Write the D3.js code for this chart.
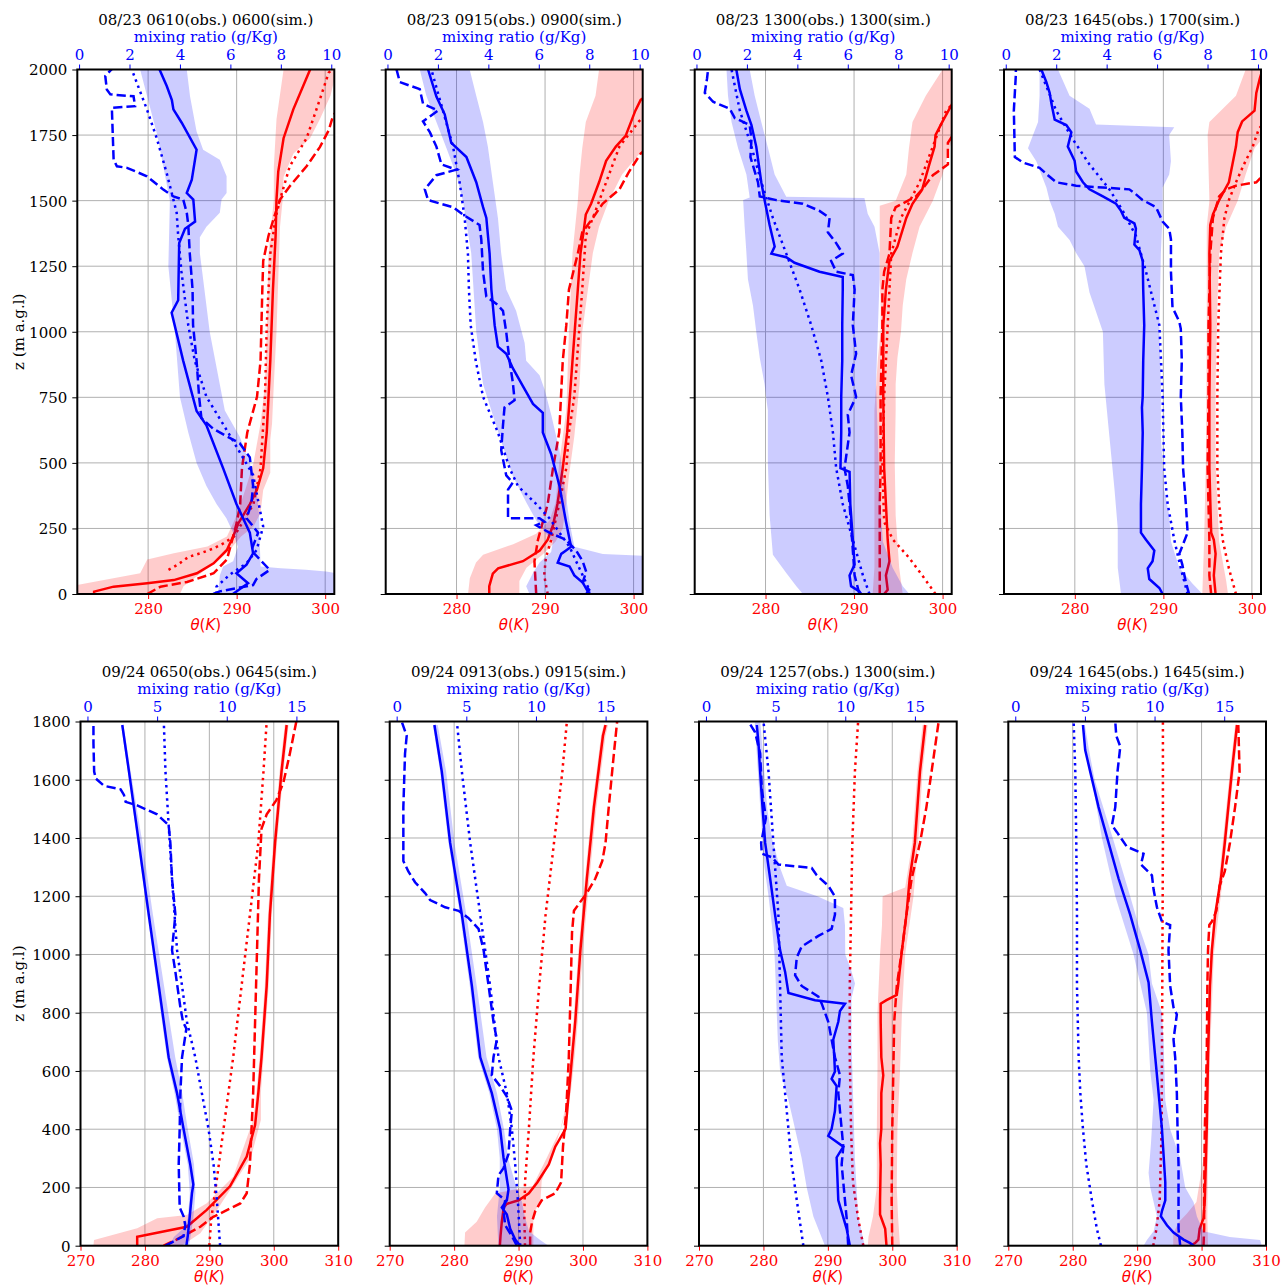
<!DOCTYPE html>
<html><head><meta charset="utf-8">
<script src="https://cdn.jsdelivr.net/npm/d3@7"></script>
<style>body{margin:0;background:#fff}svg{display:block}</style>
</head><body><svg id="c" width="1281" height="1286"></svg>
<script>
// ---------- titles ----------
const panelTitles = [
  "08/23 0610(obs.) 0600(sim.)", "08/23 0915(obs.) 0900(sim.)", "08/23 1300(obs.) 1300(sim.)", "08/23 1645(obs.) 1700(sim.)",
  "09/24 0650(obs.) 0645(sim.)", "09/24 0913(obs.) 0915(sim.)", "09/24 1257(obs.) 1300(sim.)", "09/24 1645(obs.) 1645(sim.)"
];
// ---------- tick values ----------
const zTicksTop = [0,250,500,750,1000,1250,1500,1750,2000];
const zTicksBottom = [0,200,400,600,800,1000,1200,1400,1600,1800];
const thetaTicksTop = [280,290,300];
const thetaTicksBottom = [270,280,290,300,310];
const mixTicksTop = [0,2,4,6,8,10];
const mixTicksBottom = [0,5,10,15];

// ---------- data: [z (m), value]; blue = mixing ratio (g/Kg), red = theta (K) ----------
// Panel 1
const p1BlueSolid = [[0,6.1],[41,6.7],[79,6.24],[112,6.64],[155,6.9],[234,6.77],[343,6.24],[480,5.71],[643,5.05],[698,4.66],[889,4.13],[1073,3.67],[1120,3.93],[1338,3.97],[1393,4.2],[1420,4.6],[1504,4.53],[1529,4.27],[1580,4.47],[1694,4.66],[1797,4.07],[1848,3.74],[1883,3.68],[1936,3.48],[2000,3.19]];
const p1BlueDash = [[0,5.32],[10,5.58],[34,6.9],[57,7.03],[92,7.56],[166,6.83],[234,7.1],[289,6.64],[343,6.83],[412,6.9],[521,6.77],[575,6.37],[602,5.84],[630,5.32],[671,4.85],[752,4.76],[889,4.66],[1025,4.52],[1161,4.5],[1298,4.39],[1407,4.33],[1454,4.27],[1504,4.13],[1516,3.74],[1542,3.34],[1593,2.69],[1625,1.9],[1631,1.5],[1656,1.37],[1854,1.3],[1860,2.22],[1898,2.16],[1905,1.24],[1924,1.1],[1975,1.04],[1996,1.24],[2000,1.3]];
const p1BlueDot = [[0,5.45],[28,5.45],[74,5.98],[117,6.64],[168,7.04],[257,7.3],[321,7.17],[454,6.9],[616,5.91],[752,5.05],[889,4.59],[1025,4.33],[1229,4.06],[1366,3.93],[1454,3.87],[1504,3.74],[1603,3.48],[1738,3.08],[1848,2.69],[2000,2.09]];
const p1BlueLo = [[0,5.51],[71,5.58],[105,5.71],[125,6.11],[180,6.3],[234,6.11],[289,5.84],[343,5.45],[412,5.05],[500,4.66],[616,4.33],[750,4.0],[1000,3.8],[1250,3.54],[1500,3.6],[1750,3.1],[2000,2.42]];
const p1BlueHi = [[0,10.15],[80,10.15],[86,9.8],[92,9.0],[98,8.0],[105,7.2],[180,7.17],[300,7.14],[400,7.03],[500,6.77],[600,6.37],[700,5.78],[800,5.58],[1000,5.18],[1200,4.92],[1300,4.79],[1360,4.79],[1400,5.05],[1454,5.58],[1504,5.65],[1529,5.85],[1593,5.85],[1656,5.58],[1694,4.92],[1764,4.66],[1898,4.4],[2000,4.27]];
const p1RedSolid = [[0,273.9],[9,273.9],[28,276.1],[41,279.9],[53,282.9],[79,285.5],[117,287.4],[168,288.9],[219,289.6],[270,290.2],[343,291.5],[398,292.3],[480,293.0],[616,293.4],[889,293.8],[1161,294.1],[1366,294.4],[1504,294.5],[1611,294.7],[1738,295.3],[1848,296.4],[2000,298.3]];
const p1RedDash = [[0,279.9],[28,281.4],[46,284.4],[79,287.4],[132,288.9],[219,289.6],[270,290.0],[343,290.4],[480,290.6],[616,291.2],[752,292.3],[889,292.7],[1161,292.9],[1270,293.0],[1366,293.6],[1434,294.2],[1504,294.9],[1555,296.0],[1631,297.9],[1704,299.4],[1768,300.4],[1825,300.9],[1850,301.6]];
const p1RedDot = [[92,282.3],[111,283.3],[142,284.6],[155,285.9],[174,287.4],[193,288.5],[219,289.7],[343,291.9],[480,292.7],[752,293.2],[1025,293.4],[1298,293.8],[1434,294.4],[1504,294.9],[1631,296.0],[1738,297.9],[1886,299.4],[1988,300.4],[2000,300.8]];
const p1RedLo = [[0,271],[28,271],[79,279.1],[132,279.9],[155,282.9],[181,286.7],[219,288.9],[270,289.6],[300,290.0],[400,291.0],[500,291.9],[650,292.7],[800,293.2],[1000,293.4],[1300,293.6],[1504,294.2],[1631,294.2],[1810,294.5],[2000,295.3]];
const p1RedHi = [[0,283.6],[30,284],[80,286],[130,288],[168,289.2],[219,290.5],[257,291.9],[309,292.7],[397,293.0],[462,293.8],[588,293.8],[650,294.0],[800,294.2],[1000,294.5],[1200,294.7],[1400,294.9],[1504,295.2],[1590,295.3],[1679,296.4],[1738,298.3],[1810,299.4],[1900,300.6],[2000,301.3]];
// Panel 2
const p2BlueSolid = [[0,8.0],[10,7.94],[44,7.74],[71,7.41],[105,7.22],[119,6.75],[153,6.89],[166,7.08],[180,7.28],[275,7.08],[412,6.82],[534,6.49],[616,6.16],[691,6.16],[725,5.77],[793,5.37],[861,4.97],[916,4.71],[943,4.38],[1025,4.25],[1161,4.12],[1298,4.05],[1434,3.92],[1475,3.79],[1570,3.52],[1666,3.13],[1720,2.53],[1829,2.27],[1897,1.94],[2000,1.61]];
const p2BlueDash = [[0,7.88],[16,8.0],[44,7.74],[85,7.88],[125,7.74],[166,7.48],[207,7.08],[234,6.42],[262,5.9],[275,6.23],[289,6.03],[289,4.78],[398,4.78],[425,4.97],[452,4.71],[548,4.51],[643,4.58],[711,4.64],[739,5.04],[807,4.97],[889,4.84],[998,4.71],[1080,4.58],[1107,4.31],[1134,3.92],[1229,3.79],[1352,3.72],[1407,3.65],[1447,2.99],[1475,2.6],[1502,1.61],[1543,1.48],[1597,1.94],[1618,2.73],[1638,2.14],[1706,1.94],[1761,1.68],[1802,1.41],[1843,2.0],[1870,1.41],[1925,1.28],[1952,0.49],[2000,0.36]];
const p2BlueDot = [[0,8.0],[16,8.0],[71,7.74],[125,7.48],[180,7.22],[234,6.82],[289,6.42],[343,5.9],[412,5.17],[480,4.84],[616,4.38],[752,3.79],[889,3.5],[1025,3.3],[1161,3.23],[1298,3.19],[1434,3.06],[1570,2.86],[1706,2.6],[1843,2.2],[2000,1.74]];
const p2BlueLo = [[0,5.63],[30,5.5],[80,5.77],[120,6.03],[160,6.49],[200,6.56],[230,6.29],[280,5.9],[350,5.5],[450,4.97],[600,4.45],[800,3.79],[1000,3.52],[1300,3.32],[1500,2.99],[1600,2.73],[1700,2.34],[1800,1.94],[1900,1.54],[2000,1.28]];
const p2BlueHi = [[0,10.2],[146,10.2],[153,8.54],[180,7.41],[275,7.22],[412,7.02],[548,6.82],[684,6.49],[780,6.23],[834,6.03],[889,5.5],[957,5.44],[1080,5.1],[1161,4.71],[1298,4.51],[1434,4.38],[1570,4.18],[1706,3.98],[1800,3.79],[1900,3.52],[2000,3.26]];
const p2RedSolid = [[0,283.7],[30,283.7],[78,284.1],[98,284.7],[125,287.5],[166,289.4],[207,290.3],[262,290.9],[343,291.4],[480,292.0],[616,292.5],[752,292.8],[889,293.1],[1025,293.4],[1161,293.7],[1298,294.0],[1393,294.4],[1447,294.6],[1488,295.2],[1570,296.1],[1652,296.9],[1706,298.0],[1747,299.1],[1843,300.2],[1884,300.8],[1900,301.5]];
const p2RedDash = [[0,289.0],[125,288.8],[207,289.2],[343,290.3],[480,290.9],[616,291.6],[752,291.8],[889,292.0],[1025,292.4],[1161,292.7],[1298,293.7],[1379,294.2],[1434,295.4],[1488,296.5],[1543,298.4],[1611,299.5],[1679,300.8],[1700,301.5]];
const p2RedDot = [[0,290.3],[71,289.9],[139,290.1],[207,290.7],[343,291.6],[480,292.4],[616,292.7],[752,293.3],[1025,293.9],[1161,294.2],[1366,294.6],[1434,295.4],[1570,296.9],[1706,298.4],[1802,300.6],[1830,301.5]];
const p2RedLo = [[0,281.3],[60,281.5],[120,282.2],[150,283.0],[190,286.4],[230,289.0],[280,290.5],[350,291.2],[500,291.6],[700,292.4],[1000,292.7],[1300,293.1],[1500,293.7],[1600,293.9],[1700,294.2],[1800,294.6],[1900,295.7],[2000,296.1]];
const p2RedHi = [[0,287.1],[50,287.1],[100,287.9],[150,289.7],[200,291.2],[250,292.0],[350,292.4],[450,292.7],[600,293.3],[800,293.9],[1000,294.2],[1200,295.0],[1300,295.4],[1400,296.1],[1500,297.2],[1600,298.7],[1700,301.2],[2000,301.2]];
// Panel 3
const p3BlueSolid = [[0,6.53],[10,6.46],[30,6.13],[71,6.07],[112,6.27],[207,6.2],[343,6.1],[466,6.07],[480,5.71],[616,5.74],[752,5.74],[889,5.78],[1025,5.78],[1161,5.8],[1209,5.8],[1229,4.88],[1263,3.89],[1284,3.56],[1298,2.97],[1325,3.1],[1407,2.9],[1502,2.7],[1570,2.57],[1706,2.37],[1788,2.18],[1843,1.98],[1925,1.72],[2000,1.58]];
const p3BlueDash = [[0,6.46],[71,6.27],[207,6.17],[343,6.07],[412,6.0],[480,5.87],[616,6.07],[684,6.0],[752,6.33],[834,6.13],[916,6.33],[1025,6.2],[1161,6.27],[1216,6.2],[1229,5.54],[1270,5.34],[1298,5.8],[1338,5.54],[1379,5.21],[1434,5.28],[1461,4.88],[1488,4.22],[1502,3.17],[1516,2.51],[1570,2.44],[1666,2.14],[1734,2.18],[1788,2.11],[1815,1.52],[1850,1.32],[1877,0.66],[1911,0.33],[1966,0.42],[2000,0.46]];
const p3BlueDot = [[0,6.86],[71,6.6],[207,6.2],[343,5.8],[480,5.54],[616,5.41],[752,5.21],[889,4.95],[1025,4.55],[1161,4.09],[1298,3.56],[1434,3.03],[1570,2.57],[1706,2.18],[1843,1.72],[2000,1.39]];
const p3BlueLo = [[0,4.22],[30,3.96],[80,3.56],[150,3.03],[300,2.9],[500,2.83],[700,2.83],[800,2.7],[900,2.51],[1000,2.37],[1100,2.24],[1200,2.04],[1300,1.98],[1400,1.91],[1502,1.85],[1512,2.11],[1600,1.98],[1700,1.65],[1800,1.39],[1900,1.25],[2000,1.19]];
const p3BlueHi = [[0,8.44],[30,8.18],[100,7.78],[200,7.39],[400,7.26],[600,7.19],[800,7.12],[1000,7.19],[1200,7.26],[1300,7.26],[1400,7.06],[1450,6.79],[1510,6.66],[1515,3.56],[1600,3.1],[1700,2.84],[1800,2.57],[1900,2.31],[2000,2.11]];
const p3RedSolid = [[0,293.4],[16,293.8],[71,293.6],[125,294.0],[207,293.8],[343,293.6],[480,293.4],[752,293.3],[1025,293.3],[1161,293.6],[1270,294.0],[1325,294.9],[1434,295.9],[1488,296.6],[1543,297.7],[1638,298.5],[1706,299.1],[1750,299.2],[1802,300.0],[1870,301.1],[1890,301.5]];
const p3RedDash = [[0,292.9],[207,292.9],[343,292.9],[480,293.0],[752,293.0],[1025,293.2],[1161,293.2],[1229,293.4],[1298,294.0],[1434,294.2],[1475,294.7],[1516,297.0],[1543,297.7],[1597,298.9],[1638,300.6],[1720,300.6],[1747,301.1],[1760,301.5]];
const p3RedDot = [[0,299.2],[71,297.7],[139,296.2],[207,294.4],[275,293.4],[480,293.2],[752,293.4],[1025,293.8],[1161,294.0],[1298,294.2],[1434,295.3],[1570,297.4],[1734,299.2],[1843,300.4],[1880,301.5]];
const p3RedLo = [[0,292.1],[100,292.3],[500,292.3],[700,292.3],[800,292.5],[900,292.7],[1000,293.0],[1100,293.0],[1200,292.9],[1400,292.9],[1480,292.9],[1500,294.7],[1600,295.9],[1700,296.2],[1800,296.6],[1900,298.1],[2000,300.0]];
const p3RedHi = [[0,295.5],[100,295.1],[300,294.7],[500,294.6],[700,294.7],[800,294.7],[900,294.9],[1000,295.3],[1100,295.5],[1200,295.9],[1300,296.6],[1400,297.4],[1500,298.9],[1600,300.0],[1700,300.8],[1800,301.5],[2000,301.5]];
// Panel 4
const p4BlueSolid = [[0,6.22],[23,6.09],[57,5.69],[98,5.63],[125,5.82],[166,5.89],[207,5.56],[234,5.36],[343,5.36],[480,5.4],[616,5.43],[711,5.4],[752,5.43],[889,5.45],[1025,5.49],[1161,5.45],[1270,5.43],[1311,5.3],[1332,5.1],[1393,5.16],[1413,5.1],[1434,4.7],[1461,4.57],[1488,4.37],[1516,3.85],[1543,3.32],[1570,3.06],[1611,2.79],[1652,2.73],[1706,2.46],[1761,2.6],[1788,2.4],[1809,1.94],[1870,1.81],[1911,1.74],[1952,1.61],[2000,1.41]];
const p4BlueDash = [[0,7.27],[44,7.14],[112,7.0],[153,6.88],[234,7.21],[343,7.14],[480,7.03],[616,7.0],[752,6.94],[889,6.98],[1011,6.94],[1039,6.88],[1093,6.61],[1229,6.55],[1352,6.55],[1393,6.48],[1420,6.22],[1447,6.09],[1475,5.96],[1502,5.43],[1529,5.1],[1543,4.9],[1550,3.85],[1557,2.79],[1570,2.0],[1597,1.67],[1625,1.34],[1645,0.69],[1666,0.36],[1843,0.32],[1979,0.4],[2000,0.4]];
const p4BlueDot = [[0,7.21],[98,6.94],[207,6.68],[343,6.42],[480,6.28],[752,6.22],[1025,6.09],[1229,5.56],[1366,5.16],[1461,4.64],[1543,4.11],[1638,3.32],[1734,2.66],[1843,2.0],[2000,1.34]];
const p4BlueLo = [[0,4.57],[100,4.44],[250,4.44],[400,4.31],[600,4.11],[800,3.91],[1000,3.85],[1150,3.32],[1250,3.12],[1300,2.79],[1350,2.53],[1400,2.07],[1450,1.94],[1500,1.74],[1550,1.61],[1600,1.41],[1650,1.21],[1700,0.88],[1750,1.08],[1800,1.28],[1900,1.34],[2000,1.34]];
const p4BlueHi = [[0,7.8],[40,7.4],[100,6.88],[200,6.55],[300,6.48],[400,6.28],[600,6.15],[800,6.15],[1000,6.09],[1300,6.15],[1450,6.22],[1550,6.22],[1600,6.48],[1650,6.55],[1750,6.48],[1780,6.68],[1790,3.58],[1850,3.32],[1900,2.53],[2000,2.07]];
const p4RedSolid = [[0,295.9],[71,295.7],[153,295.9],[207,295.7],[234,295.4],[480,295.2],[752,295.2],[1025,295.3],[1298,295.2],[1407,295.3],[1447,295.6],[1502,296.3],[1570,297.4],[1638,297.8],[1706,298.2],[1761,298.4],[1802,298.9],[1843,300.3],[1911,300.5],[1966,300.9],[2000,301.2]];
const p4RedDash = [[0,295.4],[71,295.2],[207,295.2],[480,295.0],[752,295.1],[1025,295.1],[1298,295.3],[1434,295.6],[1516,296.3],[1543,297.1],[1557,298.2],[1570,300.5],[1584,300.9],[1590,301.5]];
const p4RedDot = [[0,298.2],[98,297.4],[207,296.7],[343,296.3],[480,296.1],[752,296.1],[1025,296.2],[1298,296.5],[1434,296.9],[1502,297.4],[1570,298.2],[1638,299.1],[1706,300.1],[1775,300.8],[1800,301.5]];
const p4RedLo = [[0,294.4],[200,294.6],[500,294.8],[1000,294.9],[1400,294.9],[1500,295.2],[1750,295.0],[1800,295.2],[1900,298.2],[2000,299.3]];
const p4RedHi = [[0,297.3],[50,297.1],[200,296.3],[500,295.9],[800,295.9],[1100,296.1],[1300,296.3],[1400,297.1],[1500,298.4],[1600,299.3],[1700,300.3],[1750,301.5],[2000,301.5]];
// Panel 5
const p5BlueSolid = [[0,7.1],[33,7.2],[94,7.33],[180,7.5],[210,7.6],[279,7.38],[401,6.9],[524,6.43],[647,5.83],[892,5.12],[1137,4.4],[1383,3.69],[1628,2.98],[1788,2.5]];
const p5BlueDash = [[0,5.6],[10,6.0],[33,6.9],[70,7.02],[101,6.9],[131,6.62],[279,6.55],[401,6.62],[524,6.67],[647,6.79],[745,7.1],[769,6.86],[818,6.67],[941,6.31],[1015,6.07],[1137,6.31],[1260,6.07],[1383,5.95],[1444,5.83],[1481,5.0],[1512,3.57],[1524,2.74],[1548,2.62],[1567,2.38],[1579,1.19],[1604,0.6],[1628,0.48],[1726,0.43],[1800,0.43]];
const p5BlueDot = [[0,9.52],[156,9.29],[279,9.05],[401,8.69],[524,8.21],[647,7.74],[769,7.14],[892,6.79],[1015,6.43],[1260,6.07],[1444,5.83],[1628,5.6],[1800,5.48]];
const p5BlueLo = [[0,5.9],[30,6.2],[60,6.9],[94,7.2],[180,7.35],[279,7.2],[401,6.7],[524,6.25],[647,5.7],[892,5.0],[1137,4.3],[1383,3.6],[1628,2.9],[1788,2.42]];
const p5BlueHi = [[0,7.3],[94,7.6],[180,7.75],[279,7.65],[401,7.2],[524,6.8],[647,6.3],[892,5.5],[1137,4.7],[1383,3.95],[1628,3.1],[1788,2.58]];
const p5RedSolid = [[0,278.8],[31,278.8],[65,286.5],[123,289.6],[204,293.2],[306,295.8],[414,297.1],[524,297.6],[647,298.1],[892,298.9],[1137,299.4],[1383,300.2],[1628,301.2],[1788,302.0]];
const p5RedDash = [[0,282.9],[21,284.9],[65,288.6],[99,290.6],[145,294.8],[180,295.8],[279,296.3],[524,296.8],[769,297.1],[1015,297.4],[1260,297.7],[1432,298.1],[1481,298.9],[1530,300.4],[1591,301.5],[1690,302.5],[1800,303.5]];
const p5RedDot = [[0,290.0],[94,290.3],[217,291.1],[401,292.2],[647,293.7],[892,295.0],[1137,296.3],[1383,297.6],[1628,298.4],[1800,298.9]];
const p5RedLo = [[0,272],[20,272.1],[60,278.8],[94,281.9],[105,286.5],[146,289.6],[237,293.7],[432,296.8],[524,297.3],[647,297.8],[892,298.6],[1137,299.1],[1383,299.9],[1628,300.9],[1788,301.7]];
const p5RedHi = [[0,285.7],[43,288.6],[123,291.2],[191,293.2],[306,296.5],[432,298.0],[524,298.0],[647,298.4],[892,299.2],[1137,299.7],[1383,300.5],[1628,301.5],[1788,302.3]];
// Panel 6
const p6BlueSolid = [[0,8.87],[21,8.51],[58,8.15],[107,7.91],[131,7.55],[156,7.91],[193,8.03],[303,7.67],[401,7.43],[524,6.83],[647,6.0],[892,5.4],[1137,4.68],[1383,3.84],[1628,3.24],[1788,2.71]];
const p6BlueDash = [[0,8.63],[33,8.27],[70,7.79],[119,7.67],[156,7.79],[180,7.19],[242,7.31],[266,7.67],[315,8.03],[401,8.15],[463,8.27],[512,7.91],[548,7.43],[585,6.83],[647,6.95],[708,7.19],[769,6.95],[892,6.6],[1015,6.24],[1088,5.88],[1125,5.16],[1150,4.44],[1162,3.48],[1187,2.4],[1211,2.04],[1248,1.32],[1285,0.84],[1321,0.48],[1506,0.48],[1690,0.6],[1751,0.72],[1800,0.36]];
const p6BlueDot = [[0,8.87],[156,8.7],[279,8.51],[401,8.27],[524,7.91],[647,7.31],[892,6.71],[1137,6.0],[1383,5.28],[1628,4.68],[1800,4.32]];
const p6BlueLo = [[0,7.3],[50,7.25],[100,7.2],[150,7.3],[200,7.4],[300,7.4],[401,7.2],[524,6.65],[647,5.85],[892,5.25],[1137,4.55],[1383,3.72],[1628,3.12],[1788,2.6]];
const p6BlueHi = [[0,10.9],[20,10.3],[50,9.5],[100,9.2],[150,9.0],[200,8.6],[300,8.0],[401,7.7],[524,7.2],[647,6.45],[892,5.75],[1137,5.0],[1383,4.15],[1628,3.55],[1788,2.95]];
const p6RedSolid = [[0,287.1],[33,287.2],[82,287.4],[131,287.7],[144,288.2],[156,290.0],[180,291.6],[217,292.9],[279,294.7],[340,295.7],[401,297.3],[524,297.8],[647,298.3],[769,298.8],[1015,299.6],[1260,300.6],[1506,301.7],[1751,303.1],[1788,303.5]];
const p6RedDash = [[0,291.8],[45,291.8],[82,292.1],[119,292.6],[156,293.6],[180,295.7],[217,296.6],[340,296.9],[463,297.4],[647,297.8],[892,298.1],[1076,298.3],[1150,298.6],[1175,299.4],[1211,300.6],[1260,301.9],[1321,303.0],[1383,303.5],[1506,304.0],[1690,304.8],[1800,305.3]];
const p6RedDot = [[0,291.0],[94,290.9],[217,291.0],[401,291.6],[647,292.3],[892,293.2],[1137,294.2],[1383,295.5],[1628,296.8],[1800,297.5]];
const p6RedLo = [[0,281.6],[45,281.7],[82,283.5],[131,284.8],[180,286.4],[205,292.2],[303,294.4],[400,296.5],[475,297.3],[524,297.5],[647,298.0],[769,298.5],[1015,299.3],[1260,300.3],[1506,301.4],[1751,302.8],[1788,303.2]];
const p6RedHi = [[0,292.3],[107,292.3],[156,293.4],[223,293.6],[350,295.8],[475,297.6],[524,298.1],[647,298.7],[769,299.2],[1015,300.0],[1260,301.0],[1506,302.1],[1751,303.5],[1788,303.9]];
// Panel 7
const p7BlueSolid = [[0,10.33],[58,10.1],[156,9.5],[217,9.45],[303,9.38],[340,9.86],[377,8.78],[401,9.02],[463,9.26],[548,9.38],[573,9.02],[598,9.26],[647,9.21],[708,9.14],[769,9.5],[806,9.62],[831,9.98],[843,7.83],[868,5.92],[941,5.68],[1015,5.32],[1137,4.96],[1260,4.61],[1383,4.25],[1506,4.06],[1628,3.89],[1726,3.77],[1788,3.65]];
const p7BlueDash = [[0,10.21],[94,10.1],[217,9.86],[279,9.74],[340,9.86],[401,9.74],[524,9.5],[585,9.62],[647,9.26],[708,9.02],[769,8.78],[831,8.31],[855,8.07],[892,6.87],[929,6.4],[990,6.52],[1027,6.87],[1064,8.07],[1088,9.02],[1137,9.26],[1199,9.26],[1236,8.78],[1272,7.95],[1297,7.59],[1309,5.2],[1334,4.73],[1346,4.01],[1383,3.96],[1469,4.3],[1567,4.01],[1690,3.89],[1763,3.53],[1800,3.05]];
const p7BlueDot = [[0,6.99],[156,6.52],[279,6.16],[401,5.92],[524,5.68],[647,5.44],[892,5.32],[1137,5.2],[1383,4.84],[1628,4.49],[1800,4.13]];
const p7BlueLo = [[0,8.54],[100,7.71],[200,7.23],[300,6.87],[400,6.4],[500,5.92],[600,5.32],[700,5.16],[800,5.08],[900,5.01],[1000,4.92],[1100,4.73],[1200,4.49],[1300,4.2],[1500,3.9],[1800,3.5]];
const p7BlueHi = [[0,11.4],[100,10.93],[300,10.69],[500,10.57],[700,10.45],[850,10.45],[900,10.7],[950,10.4],[1000,10.0],[1100,9.98],[1160,9.86],[1200,8.0],[1236,5.8],[1300,5.3],[1400,4.73],[1500,4.4],[1800,3.9]];
const p7RedSolid = [[0,299.1],[58,298.9],[107,298.1],[156,298.1],[279,298.2],[352,298.1],[401,298.3],[524,298.3],[585,298.6],[647,298.3],[769,298.2],[831,298.2],[843,299.1],[861,300.7],[892,300.9],[1015,301.5],[1137,302.2],[1260,302.7],[1383,303.5],[1628,304.3],[1788,305.1]];
const p7RedDash = [[0,300.0],[156,299.9],[401,300.0],[647,300.2],[769,300.3],[892,300.7],[1015,301.5],[1137,302.2],[1260,303.0],[1383,304.3],[1506,305.3],[1628,306.1],[1800,307.2]];
const p7RedDot = [[0,295.5],[94,294.7],[217,293.9],[401,293.6],[647,293.4],[892,293.4],[1137,293.6],[1383,293.8],[1628,294.2],[1800,294.7]];
const p7RedLo = [[0,296.2],[30,296.3],[100,297.0],[200,297.6],[400,297.6],[600,297.7],[800,297.7],[1000,298.1],[1100,298.4],[1200,298.5],[1230,302.0],[1383,303.1],[1628,303.9],[1788,304.7]];
const p7RedHi = [[0,301.2],[100,300.9],[200,300.7],[400,300.8],[600,301.2],[800,301.5],[1000,302.0],[1200,303.3],[1383,304.0],[1628,304.7],[1788,305.5]];
// Panel 8
const p8BlueSolid = [[0,12.8],[9,12.56],[21,12.08],[45,11.36],[70,10.89],[101,10.45],[119,10.53],[156,10.77],[217,10.77],[401,10.53],[524,10.29],[647,10.05],[769,9.81],[904,9.57],[1015,8.97],[1137,8.25],[1260,7.42],[1383,6.7],[1506,5.98],[1628,5.38],[1702,5.02],[1788,4.86]];
const p8BlueDash = [[0,11.84],[58,11.72],[156,11.72],[279,11.72],[401,11.65],[524,11.6],[647,11.48],[708,11.36],[794,11.6],[818,11.36],[892,11.12],[1015,11.0],[1101,11.12],[1113,10.53],[1162,10.17],[1223,9.93],[1272,9.81],[1309,9.02],[1346,9.21],[1370,8.01],[1420,7.3],[1444,6.94],[1506,7.18],[1628,7.34],[1714,7.54],[1751,7.25],[1800,7.18]];
const p8BlueDot = [[0,6.15],[58,5.86],[156,5.5],[279,5.1],[401,4.86],[524,4.67],[647,4.55],[892,4.43],[1137,4.43],[1383,4.38],[1628,4.31],[1800,4.19]];
const p8BlueLo = [[0,9.21],[20,9.45],[50,9.93],[100,10.17],[150,9.93],[200,9.69],[250,9.57],[350,9.74],[500,9.93],[600,9.69],[800,9.45],[1000,8.49],[1200,7.18],[1400,6.22],[1600,5.5],[1700,5.0],[1788,4.8]];
const p8BlueHi = [[0,17.7],[20,17.58],[30,15.4],[50,13.5],[100,13.04],[150,12.8],[200,12.2],[300,11.84],[400,11.12],[500,10.77],[700,10.65],[800,10.53],[900,9.81],[1000,9.57],[1100,8.85],[1200,8.25],[1400,7.0],[1600,5.7],[1700,5.3],[1788,5.0]];
const p8RedSolid = [[0,298.2],[9,299.0],[21,299.5],[58,299.7],[94,300.3],[156,300.5],[401,300.8],[647,301.0],[892,301.3],[1015,301.6],[1137,302.1],[1260,303.0],[1383,303.6],[1628,304.7],[1788,305.5]];
const p8RedDash = [[0,300.3],[58,300.4],[156,300.4],[401,300.5],[647,300.8],[892,300.9],[1015,301.0],[1101,301.2],[1113,301.6],[1150,302.3],[1236,302.8],[1285,303.6],[1383,304.4],[1506,305.2],[1628,305.9],[1788,305.7]];
const p8RedDot = [[0,292.5],[58,293.0],[156,293.5],[401,293.8],[892,293.9],[1383,294.0],[1800,294.0]];
const p8RedLo = [[0,295.6],[40,295.6],[80,296.4],[110,297.7],[150,299.2],[300,300.3],[647,300.7],[1000,301.3],[1260,302.7],[1628,304.4],[1788,305.2]];
const p8RedHi = [[0,301.0],[100,300.9],[300,301.0],[647,301.3],[1000,301.9],[1260,303.3],[1628,305.0],[1788,305.8]];

// ---------- assemble ----------
const panels = [
  {bs:p1BlueSolid,bd:p1BlueDash,bo:p1BlueDot,bl:p1BlueLo,bh:p1BlueHi,rs:p1RedSolid,rd:p1RedDash,ro:p1RedDot,rl:p1RedLo,rh:p1RedHi},
  {bs:p2BlueSolid,bd:p2BlueDash,bo:p2BlueDot,bl:p2BlueLo,bh:p2BlueHi,rs:p2RedSolid,rd:p2RedDash,ro:p2RedDot,rl:p2RedLo,rh:p2RedHi},
  {bs:p3BlueSolid,bd:p3BlueDash,bo:p3BlueDot,bl:p3BlueLo,bh:p3BlueHi,rs:p3RedSolid,rd:p3RedDash,ro:p3RedDot,rl:p3RedLo,rh:p3RedHi},
  {bs:p4BlueSolid,bd:p4BlueDash,bo:p4BlueDot,bl:p4BlueLo,bh:p4BlueHi,rs:p4RedSolid,rd:p4RedDash,ro:p4RedDot,rl:p4RedLo,rh:p4RedHi},
  {bs:p5BlueSolid,bd:p5BlueDash,bo:p5BlueDot,bl:p5BlueLo,bh:p5BlueHi,rs:p5RedSolid,rd:p5RedDash,ro:p5RedDot,rl:p5RedLo,rh:p5RedHi},
  {bs:p6BlueSolid,bd:p6BlueDash,bo:p6BlueDot,bl:p6BlueLo,bh:p6BlueHi,rs:p6RedSolid,rd:p6RedDash,ro:p6RedDot,rl:p6RedLo,rh:p6RedHi},
  {bs:p7BlueSolid,bd:p7BlueDash,bo:p7BlueDot,bl:p7BlueLo,bh:p7BlueHi,rs:p7RedSolid,rd:p7RedDash,ro:p7RedDot,rl:p7RedLo,rh:p7RedHi},
  {bs:p8BlueSolid,bd:p8BlueDash,bo:p8BlueDot,bl:p8BlueLo,bh:p8BlueHi,rs:p8RedSolid,rd:p8RedDash,ro:p8RedDot,rl:p8RedLo,rh:p8RedHi}
];

const rows = [
  {top:69.5, bottom:594, lefts:[77.3,385.7,694.7,1004], width:257, zDomain:[0,2000], zTicks:zTicksTop,
   thDomain:[272,301.03], thTicks:thetaTicksTop, mDomain:[-0.07,10.12], mTicks:mixTicksTop},
  {top:721.5, bottom:1245.7, lefts:[80.5,389.7,699,1008.3], width:257.7, zDomain:[0,1800], zTicks:zTicksBottom,
   thDomain:[270,310], thTicks:thetaTicksBottom, mDomain:[-0.5,18.0], mTicks:mixTicksBottom}
];

const SERIF = "'DejaVu Serif', serif";
const SANS = "'DejaVu Sans', sans-serif";
const BLUE = "#0000ff", RED = "#ff0000";
const LW = 2.5;
const svg = d3.select("#c");
const defs = svg.append("defs");

panels.forEach((p, i) => {
  const r = rows[Math.floor(i / 4)];
  const col = i % 4;
  const x0 = r.lefts[col], x1 = x0 + r.width;
  const y = d3.scaleLinear().domain(r.zDomain).range([r.bottom, r.top]);
  const xt = d3.scaleLinear().domain(r.thDomain).range([x0, x1]);
  const xm = d3.scaleLinear().domain(r.mDomain).range([x0, x1]);
  const g = svg.append("g");

  defs.append("clipPath").attr("id", "clip" + i).append("rect")
    .attr("x", x0).attr("y", r.top).attr("width", r.width).attr("height", r.bottom - r.top);

  // grid
  const grid = g.append("g").attr("stroke", "#b0b0b0").attr("stroke-width", 1);
  r.thTicks.forEach(t => grid.append("line").attr("x1", xt(t)).attr("x2", xt(t)).attr("y1", r.top).attr("y2", r.bottom));
  r.zTicks.forEach(t => grid.append("line").attr("x1", x0).attr("x2", x1).attr("y1", y(t)).attr("y2", y(t)));

  const plot = g.append("g").attr("clip-path", `url(#clip${i})`);
  const lineT = d3.line().x(d => xt(d[1])).y(d => y(d[0]));
  const lineM = d3.line().x(d => xm(d[1])).y(d => y(d[0]));
  const band = (lo, hi, gen) => gen(lo.concat(hi.slice().reverse())) + "Z";

  // red (theta) layer
  plot.append("path").attr("d", band(p.rl, p.rh, lineT)).attr("fill", RED).attr("fill-opacity", 0.2).attr("stroke", "none");
  plot.append("path").attr("d", lineT(p.rs)).attr("fill", "none").attr("stroke", RED).attr("stroke-width", LW);
  plot.append("path").attr("d", lineT(p.rd)).attr("fill", "none").attr("stroke", RED).attr("stroke-width", LW).attr("stroke-dasharray", "9.25,4");
  plot.append("path").attr("d", lineT(p.ro)).attr("fill", "none").attr("stroke", RED).attr("stroke-width", LW).attr("stroke-dasharray", "2.5,4.1");
  // blue (mixing ratio) layer
  plot.append("path").attr("d", band(p.bl, p.bh, lineM)).attr("fill", BLUE).attr("fill-opacity", 0.2).attr("stroke", "none");
  plot.append("path").attr("d", lineM(p.bs)).attr("fill", "none").attr("stroke", BLUE).attr("stroke-width", LW);
  plot.append("path").attr("d", lineM(p.bd)).attr("fill", "none").attr("stroke", BLUE).attr("stroke-width", LW).attr("stroke-dasharray", "9.25,4");
  plot.append("path").attr("d", lineM(p.bo)).attr("fill", "none").attr("stroke", BLUE).attr("stroke-width", LW).attr("stroke-dasharray", "2.5,4.1");

  // axes
  const ax = (sel, color) => {
    sel.select(".domain").remove();
    sel.selectAll("line").attr("stroke", color).attr("stroke-width", 1);
    sel.selectAll("text").attr("fill", color).style("font-family", SERIF).style("font-size", "15px");
  };
  const left = g.append("g").attr("transform", `translate(${x0},0)`)
    .call(d3.axisLeft(y).tickValues(r.zTicks).tickSize(5).tickPadding(5).tickFormat(col === 0 ? d3.format("d") : () => ""));
  ax(left, "#000");
  left.selectAll("text").attr("dy", "0.36em");

  const bot = g.append("g").attr("transform", `translate(0,${r.bottom})`)
    .call(d3.axisBottom(xt).tickValues(r.thTicks).tickSize(5).tickFormat(d3.format("d")));
  ax(bot, RED);
  bot.selectAll("text").attr("y", 20).attr("dy", 0);

  const topAx = g.append("g").attr("transform", `translate(0,${r.top})`)
    .call(d3.axisTop(xm).tickValues(r.mTicks).tickSize(5).tickFormat(d3.format("d")));
  ax(topAx, BLUE);
  topAx.selectAll("text").attr("y", -9.5).attr("dy", 0);

  // frame
  g.append("rect").attr("x", x0).attr("y", r.top).attr("width", r.width).attr("height", r.bottom - r.top)
    .attr("fill", "none").attr("stroke", "#000").attr("stroke-width", 2);

  const cx = (x0 + x1) / 2;
  // labels
  g.append("text").attr("x", cx).attr("y", r.top - 27.5).attr("text-anchor", "middle")
    .attr("fill", BLUE).style("font-family", SERIF).style("font-size", "15px").text("mixing ratio (g/Kg)");
  g.append("text").attr("x", cx).attr("y", r.top - 44.5).attr("text-anchor", "middle")
    .attr("fill", "#000").style("font-family", SERIF).style("font-size", "15px").text(panelTitles[i]);
  const tl = g.append("text").attr("x", cx).attr("y", r.bottom + 36).attr("text-anchor", "middle")
    .attr("fill", RED).style("font-family", SANS).style("font-size", "15px");
  tl.append("tspan").style("font-style", "italic").text("θ");
  tl.append("tspan").text("(");
  tl.append("tspan").style("font-style", "italic").text("K");
  tl.append("tspan").text(")");

  if (col === 0) {
    g.append("text").attr("transform", `translate(24,${(r.top + r.bottom) / 2}) rotate(-90)`)
      .attr("text-anchor", "middle").attr("fill", "#000")
      .style("font-family", SERIF).style("font-size", "15px").text("z (m a.g.l)");
  }
});
</script>
</body></html>
